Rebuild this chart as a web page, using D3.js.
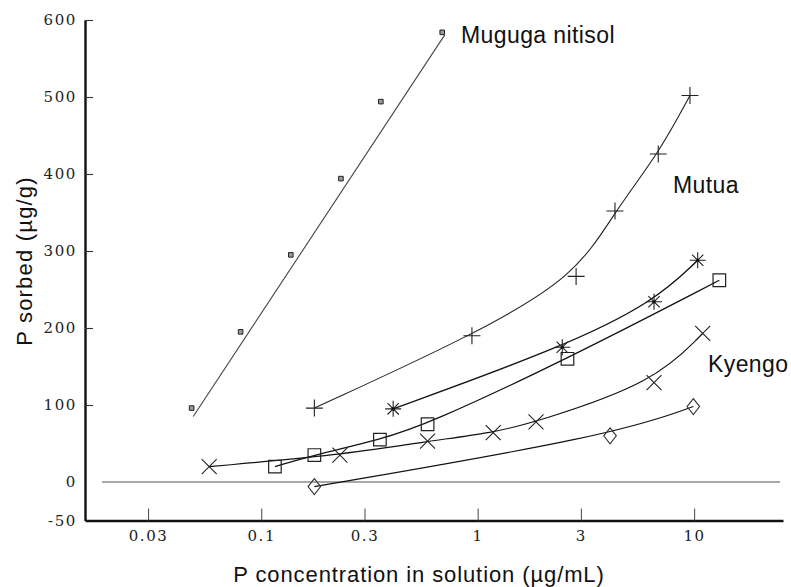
<!DOCTYPE html>
<html><head><meta charset="utf-8">
<script src="https://cdn.jsdelivr.net/npm/d3@7"></script>
<style>
body{margin:0;background:#fff}
svg{display:block}
</style></head><body>
<svg id="chart" width="791" height="587"></svg>
<script>
// P sorption isotherms: P concentration in solution (µg/mL) against P sorbed (µg/g)

// Muguga nitisol: measured points and the fitted straight line
const mugugaConc = [0.0477, 0.0803, 0.137, 0.2335, 0.357, 0.686];
const mugugaSorbed = [96, 195, 295, 394, 494, 584];
const mugugaFitConc = [0.0485, 0.706];
const mugugaFitSorbed = [85, 581];

// Mutua (+)
const mutuaConc = [0.176, 0.941, 2.85, 4.31, 6.83, 9.57];
const mutuaSorbed = [96, 190, 267, 352, 426, 502];

// asterisk series
const starConc = [0.407, 2.46, 6.53, 10.39];
const starSorbed = [95, 175, 234, 288];

// open-square series
const squareConc = [0.1157, 0.176, 0.3535, 0.587, 2.60, 13.08];
const squareSorbed = [20, 35, 55, 75, 160, 262];

// Kyengo (x)
const crossConc = [0.0575, 0.231, 0.587, 1.18, 1.86, 6.53, 10.96];
const crossSorbed = [20, 35, 53, 64, 78, 129, 193];

// diamond series
const diamondConc = [0.176, 4.09, 9.92];
const diamondSorbed = [-6, 60, 98];

const xTicks = [0.03, 0.1, 0.3, 1, 3, 10];
const xTickLabels = ["0.03", "0.1", "0.3", "1", "3", "10"];
const yTicks = [-50, 0, 100, 200, 300, 400, 500, 600];
const yTickLabels = ["-50", "0", "100", "200", "300", "400", "500", "600"];

const svg = d3.select("#chart");
const plotLeft = 85, plotRight = 783, plotTop = 20, plotBottom = 520.5;

const x = d3.scaleLog().domain([0.01534, 25.75]).range([plotLeft, plotRight]);
const y = d3.scaleLinear().domain([-50, 600]).range([plotBottom, plotTop]);

const zip = (xs, ys) => xs.map((v, i) => [v, ys[i]]);

// zero reference line
svg.append("line")
  .attr("x1", plotLeft + 17).attr("x2", plotRight - 3)
  .attr("y1", y(0)).attr("y2", y(0))
  .attr("stroke", "#555").attr("stroke-width", 1.2);

// axes
const serif = "'DejaVu Serif', serif";
const yAxis = d3.axisLeft(y).tickValues(yTicks)
  .tickFormat((d, i) => yTickLabels[i])
  .tickSizeInner(-8).tickSizeOuter(0).tickPadding(8);
const gy = svg.append("g").attr("transform", `translate(${plotLeft},0)`).call(yAxis);
gy.select(".domain").attr("stroke", "#111").attr("stroke-width", 2.4);
gy.selectAll(".tick line").attr("stroke", "#333").attr("stroke-width", 1.1)
  .filter(d => d === 0 || d === -50).remove();
gy.selectAll(".tick text").attr("font-family", serif).attr("font-size", 15)
  .attr("letter-spacing", "1.6px").attr("fill", "#222");

const xAxis = d3.axisBottom(x).tickValues(xTicks)
  .tickFormat((d, i) => xTickLabels[i])
  .tickSizeInner(-12).tickSizeOuter(0).tickPadding(10);
const gx = svg.append("g").attr("transform", `translate(0,${plotBottom})`).call(xAxis);
gx.select(".domain").attr("stroke", "#111").attr("stroke-width", 2.4);
gx.selectAll(".tick line").attr("stroke", "#555").attr("stroke-width", 1.1);
gx.selectAll(".tick text").attr("font-family", serif).attr("font-size", 15)
  .attr("letter-spacing", "1.6px").attr("fill", "#222");

// axis titles
const sans = "'Liberation Sans', Arial, sans-serif";
svg.append("text").attr("x", 419).attr("y", 582)
  .attr("text-anchor", "middle").attr("font-family", sans).attr("font-size", 22)
  .attr("letter-spacing", "0.9px").attr("fill", "#111")
  .text("P concentration in solution (\u00b5g/mL)");
svg.append("text").attr("transform", "translate(32,261) rotate(-90)")
  .attr("text-anchor", "middle").attr("font-family", sans).attr("font-size", 22)
  .attr("letter-spacing", "1.2px").attr("fill", "#111")
  .text("P sorbed (\u00b5g/g)");

// curves: straight fit for Muguga, smoothed B-splines for the others
const line = d3.line().x(d => x(d[0])).y(d => y(d[1]));
const curve = d3.line().x(d => x(d[0])).y(d => y(d[1])).curve(d3.curveBasis);

const series = [
  {pts: zip(mugugaFitConc, mugugaFitSorbed), gen: line, stroke: "#444", w: 1.1},
  {pts: zip(mutuaConc, mutuaSorbed), gen: curve, stroke: "#222", w: 1.1},
  {pts: zip(starConc, starSorbed), gen: curve, stroke: "#111", w: 1.3},
  {pts: zip(squareConc, squareSorbed), gen: curve, stroke: "#111", w: 1.2},
  {pts: zip(crossConc, crossSorbed), gen: curve, stroke: "#111", w: 1.1},
  {pts: zip(diamondConc, diamondSorbed), gen: curve, stroke: "#111", w: 1.1}
];
svg.append("g").selectAll("path").data(series).join("path")
  .attr("d", s => s.gen(s.pts))
  .attr("fill", "none").attr("stroke", s => s.stroke).attr("stroke-width", s => s.w);

// marker shapes
const plusPath = r => `M${-r},0H${r}M0,${-r}V${r}`;
const crossPath = r => `M${-r},${-r}L${r},${r}M${-r},${r}L${r},${-r}`;
const starPath = r => {
  const a = r * Math.SQRT1_2;
  return `M${-r},0H${r}M0,${-r}V${r}M${-a},${-a}L${a},${a}M${-a},${a}L${a},${-a}`;
};
const squarePath = s => `M${-s},${-s}H${s}V${s}H${-s}Z`;
const diamondPath = (w, h) => `M0,${-h}L${w},0L0,${h}L${-w},0Z`;

function markers(pts, d, stroke, sw, fill) {
  svg.append("g").selectAll("path").data(pts).join("path")
    .attr("transform", p => `translate(${x(p[0])},${y(p[1])})`)
    .attr("d", d).attr("fill", fill || "none")
    .attr("stroke", stroke).attr("stroke-width", sw);
}

markers(zip(mugugaConc, mugugaSorbed), squarePath(2.3), "#222", 1, "#999");
markers(zip(mutuaConc, mutuaSorbed), plusPath(8.5), "#222", 1.1);
markers(zip(starConc, starSorbed), starPath(8), "#222", 1.1);
svg.append("g").selectAll("circle").data(zip(starConc, starSorbed)).join("circle")
  .attr("cx", p => x(p[0])).attr("cy", p => y(p[1])).attr("r", 1.6).attr("fill", "#111");
markers(zip(squareConc, squareSorbed), squarePath(6.3), "#222", 1.2, "none");
markers(zip(crossConc, crossSorbed), crossPath(7.5), "#222", 1.1);
markers(zip(diamondConc, diamondSorbed), diamondPath(6.3, 8), "#333", 1.1, "none");

// series names
const names = [
  {text: "Muguga nitisol", px: 461, py: 43},
  {text: "Mutua", px: 673, py: 193},
  {text: "Kyengo", px: 708, py: 372}
];
svg.append("g").selectAll("text").data(names).join("text")
  .attr("x", d => d.px).attr("y", d => d.py)
  .attr("font-family", sans).attr("font-size", 23).attr("letter-spacing", "0.4px")
  .attr("fill", "#111").text(d => d.text);
</script>
</body></html>
